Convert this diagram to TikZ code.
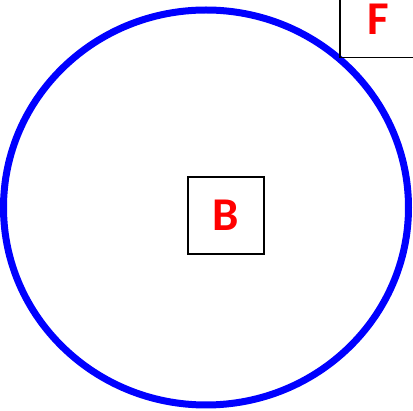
\documentclass[tikz,border=0pt]{standalone}
\usepackage{fontspec}
\usepackage{xcolor}
\usepackage{tikz}
\newfontfamily\labelfont{Carlito}
\definecolor{ringblue}{HTML}{0000FF}
\definecolor{labelred}{HTML}{FF0000}

\begin{document}
\begin{tikzpicture}[x=1pt,y=-1pt,
  labelbox/.style={draw=black,line width=1.5pt,minimum width=76pt,minimum height=77pt,inner sep=0pt,
    text=labelred,font=\labelfont\bfseries\fontsize{47}{47}\selectfont}]
  \useasboundingbox (0,0) rectangle (413,411);
  \draw[ringblue,line width=7pt] (206,207.5) ellipse [x radius=202.5pt,y radius=197.5pt];
  \node[labelbox] (boxB) at (226,215.5) {B};
  \node[labelbox] (boxF) at (378,19) {F};
\end{tikzpicture}
\end{document}
